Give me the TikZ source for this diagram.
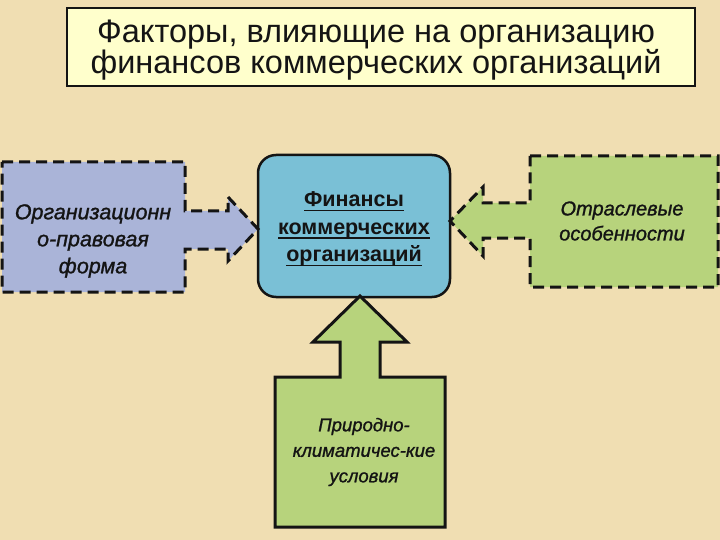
\documentclass[tikz,border=0pt]{standalone}
\usepackage{fontspec}
\setmainfont{Liberation Sans}
\newfontfamily\factorfont[FakeBold=1.2]{Liberation Sans}
\usetikzlibrary{positioning}
\definecolor{sand}{RGB}{240,222,178}
\definecolor{cream}{RGB}{255,255,204}
\definecolor{lilac}{RGB}{170,180,216}
\definecolor{sky}{RGB}{122,192,214}
\definecolor{leaf}{RGB}{183,211,124}
\definecolor{ink}{RGB}{20,20,20}
\newcommand{\ulbar}[1]{\setbox0=\hbox{#1}\leavevmode
  \rlap{\vrule width\wd0 height -3pt depth 4.6pt}\box0}

\begin{document}
\begin{tikzpicture}[x=1pt, y=-1pt,
      head/.style={draw=ink, line width=2pt, fill=cream,
                   minimum width=628pt, minimum height=78pt},
      core/.style={draw=ink, line width=2.5pt, fill=sky, rounded corners=18pt,
                   minimum width=192pt, minimum height=142pt},
      dashbox/.style={draw=ink, line width=3pt, dash pattern=on 11pt off 6pt,
                      line join=miter},
      solidbox/.style={draw=ink, line width=3pt, line join=miter},
      txt/.style={align=center, text=ink, inner sep=0pt}]
    \useasboundingbox[fill=sand] (0,0) rectangle (720,540);
    % ----- title
    \node[head] (ttl) at (381,47) {};
    \node[txt, font=\fontsize{32.5}{31}\selectfont] (ttltxt) at (376,50)
      {Факторы, влияющие на организацию\\финансов коммерческих организаций};
    % ----- core box in the middle
    \node[core] (fin) at (354,226) {};
    \node[txt, font=\bfseries\fontsize{21.5}{27.5}\selectfont] (fintxt)
      at (354,229) {\ulbar{Финансы}\\\ulbar{коммерческих}\\\ulbar{организаций}};
    % ----- left factor, arrow to the right
    \draw[dashbox, fill=lilac] (2,162) -- (185,162) -- (185,211) -- (228,211)
      -- (228,197) -- (258,229) -- (228,261) -- (228,249) -- (185,249)
      -- (185,292) -- (2,292) -- cycle;
    \node[txt, font=\factorfont\itshape\fontsize{21.5}{27}\selectfont] (org)
      at (93,241) {Организационн\\о-правовая\\форма};
    % ----- right factor, arrow to the left
    \draw[dashbox, fill=leaf] (530,156) -- (718,156) -- (718,287) -- (530,287)
      -- (530,238) -- (483,238) -- (483,256) -- (450,221) -- (483,187)
      -- (483,203) -- (530,203) -- cycle;
    \node[txt, font=\factorfont\itshape\fontsize{20}{25}\selectfont] (otr)
      at (622,221) {Отраслевые\\особенности};
    % ----- bottom factor, arrow up
    \draw[solidbox, fill=leaf] (275,377) -- (340,377) -- (340,342) -- (313,342)
      -- (360,296) -- (407,342) -- (380,342) -- (380,377) -- (445,377)
      -- (445,527) -- (275,527) -- cycle;
    \node[txt, font=\factorfont\itshape\fontsize{18.5}{25.5}\selectfont] (prir)
      at (364,452) {Природно-\\климатичес-кие\\условия};
  \end{tikzpicture}
\end{document}
